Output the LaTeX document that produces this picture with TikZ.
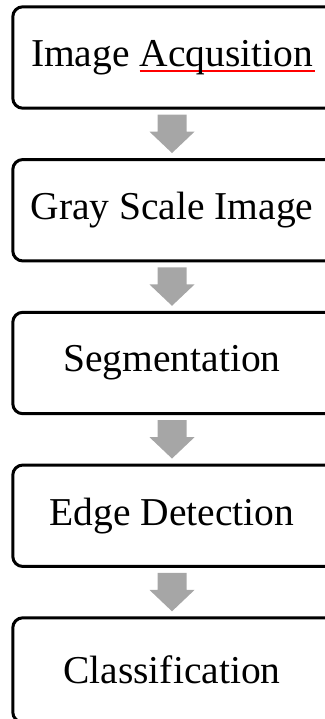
\documentclass[tikz,border=0pt]{standalone}
\usepackage{fontspec}
\setmainfont{Liberation Serif}
\usetikzlibrary{calc}
\definecolor{arrowgray}{HTML}{A6A6A6}
\definecolor{spellred}{HTML}{FF0000}
\newlength\ulw
\newcommand\redline[1]{\settowidth\ulw{#1}\addtolength\ulw{2pt}\rlap{\textcolor{spellred}{\rule[-5.8pt]{\ulw}{2pt}}}#1}
\tikzset{
  stagebox/.style={draw=none, minimum width=318pt, minimum height=101pt, inner sep=0pt,
    font=\fontsize{39.5}{47}\selectfont},
  boxline/.style={draw=black, line width=3pt, rounded corners=10pt},
  flowarrow/.style={fill=arrowgray, draw=none}
}
\begin{document}
\begin{tikzpicture}[x=1pt,y=1pt]
\useasboundingbox (0,0) rectangle (324,-719);
\node[stagebox] (b1) at (172,-57.5) {Image \redline{Acqusition}};
\node[stagebox] (b2) at (172,-210.25) {Gray Scale Image};
\node[stagebox] (b3) at (172,-363) {Segmentation};
\node[stagebox] (b4) at (172,-515.75) {Edge Detection};
\node[stagebox, minimum height=104pt] (b5) at (172,-670) {Classification};
\foreach \n in {b1,b2,b3,b4,b5}{
  \draw[boxline] (\n.south west) rectangle ($(\n.north east)+(20,0)$);
}
\foreach \a/\b in {b1/b2,b2/b3,b3/b4,b4/b5}{
  \fill[flowarrow] ($(\a.south)+(-14.5,-6.5)$) -- ++(29,0) -- ++(0,-17) -- ++(8,0)
    -- ($(\b.north)+(0,6.5)$) -- ($(\a.south)+(-22.5,-23.5)$) -- ++(8,0) -- cycle;
}
\end{tikzpicture}
\end{document}
